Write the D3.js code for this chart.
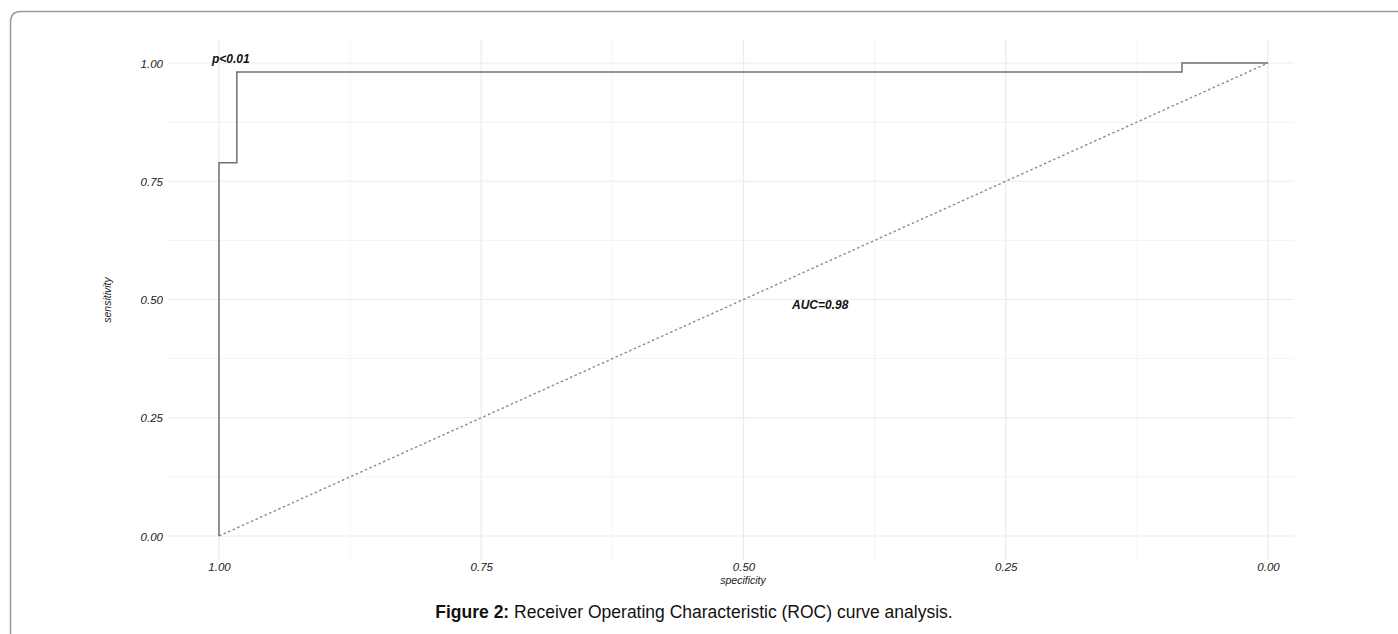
<!DOCTYPE html>
<html><head><meta charset="utf-8">
<script src="https://cdn.jsdelivr.net/npm/d3@7"></script>
<style>body{margin:0;background:#fff;}svg{display:block;}</style>
</head><body>
<script>
const specificity = [1.00, 1.00, 0.983, 0.983, 0.082, 0.082, 0.00];
const sensitivity = [0.00, 0.789, 0.789, 0.981, 0.981, 1.00, 1.00];
const diagSpec = [1.00, 0.00];
const diagSens = [0.00, 1.00];
const xTicks = [1.00, 0.75, 0.50, 0.25, 0.00];
const yTicks = [0.00, 0.25, 0.50, 0.75, 1.00];
const xMinor = [0.875, 0.625, 0.375, 0.125];
const yMinor = [0.125, 0.375, 0.625, 0.875];
const pText = "p<0.01";
const aucText = "AUC=0.98";
const xTitle = "specificity";
const yTitle = "sensitivity";
const captionBold = "Figure 2:";
const captionRest = " Receiver Operating Characteristic (ROC) curve analysis.";

const W = 1398, H = 634;
const svg = d3.select("body").append("svg").attr("width", W).attr("height", H);

// frame
svg.append("path")
  .attr("d", `M10.5,${H+5} L10.5,22 Q10.5,11.5 21,11.5 L${W+5},11.5`)
  .attr("fill", "none").attr("stroke", "#9a9a9a").attr("stroke-width", 1.5);

const x = d3.scaleLinear().domain([1, 0]).range([219, 1268]);
const y = d3.scaleLinear().domain([0, 1]).range([536, 63]);
const panel = {x0: 168, x1: 1294, y0: 40, y1: 560};

const g = svg.append("g");
yMinor.forEach(v => g.append("line").attr("x1", panel.x0).attr("x2", panel.x1)
  .attr("y1", y(v)).attr("y2", y(v)).attr("stroke", "#f3f3f3").attr("stroke-width", 1));
xMinor.forEach(v => g.append("line").attr("x1", x(v)).attr("x2", x(v))
  .attr("y1", panel.y0).attr("y2", panel.y1).attr("stroke", "#f3f3f3").attr("stroke-width", 1));
yTicks.forEach(v => g.append("line").attr("x1", panel.x0).attr("x2", panel.x1)
  .attr("y1", y(v)).attr("y2", y(v)).attr("stroke", "#ebebeb").attr("stroke-width", 1.2));
xTicks.forEach(v => g.append("line").attr("x1", x(v)).attr("x2", x(v))
  .attr("y1", panel.y0).attr("y2", panel.y1).attr("stroke", "#ebebeb").attr("stroke-width", 1.2));

const font = "'Liberation Sans', Arial, sans-serif";
const yAxis = d3.axisLeft(y).tickValues(yTicks).tickFormat(d3.format(".2f")).tickSize(0).tickPadding(0);
const ya = svg.append("g").attr("transform", "translate(163,0)").call(yAxis);
ya.select(".domain").remove();
ya.selectAll("text").attr("font-family", font).attr("font-style", "italic")
  .attr("font-size", 11.5).attr("fill", "#222").attr("dy", "0.35em");

const xAxis = d3.axisBottom(x).tickValues(xTicks).tickFormat(d3.format(".2f")).tickSize(0).tickPadding(0);
const xa = svg.append("g").attr("transform", "translate(0,563)").call(xAxis);
xa.select(".domain").remove();
xa.selectAll("text").attr("font-family", font).attr("font-style", "italic")
  .attr("font-size", 11.5).attr("fill", "#222").attr("dy", "0.71em");

svg.append("text").attr("x", 743).attr("y", 584).attr("text-anchor", "middle")
  .attr("font-family", font).attr("font-style", "italic").attr("font-size", 10.5)
  .attr("fill", "#222").text(xTitle);
svg.append("text").attr("transform", "translate(111,300) rotate(-90)").attr("text-anchor", "middle")
  .attr("font-family", font).attr("font-style", "italic").attr("font-size", 10.5)
  .attr("fill", "#222").text(yTitle);

svg.append("path")
  .attr("d", d3.line().x(d => x(d[0])).y(d => y(d[1]))(diagSpec.map((s, i) => [s, diagSens[i]])))
  .attr("fill", "none").attr("stroke", "#8a8a8a").attr("stroke-width", 1.4)
  .attr("stroke-dasharray", "2.5,2.5");

svg.append("path")
  .attr("d", d3.line().x(d => x(d[0])).y(d => y(d[1]))(specificity.map((s, i) => [s, sensitivity[i]])))
  .attr("fill", "none").attr("stroke", "#707070").attr("stroke-width", 1.5);

svg.append("text").attr("x", 212).attr("y", 63).attr("font-family", font)
  .attr("font-style", "italic").attr("font-weight", "bold").attr("font-size", 12)
  .attr("fill", "#111").text(pText);
svg.append("text").attr("x", 792).attr("y", 309).attr("font-family", font)
  .attr("font-style", "italic").attr("font-weight", "bold").attr("font-size", 12)
  .attr("fill", "#111").text(aucText);

const cap = svg.append("text").attr("x", 694).attr("y", 618).attr("text-anchor", "middle")
  .attr("font-family", font).attr("font-size", 17.5).attr("fill", "#111");
cap.append("tspan").attr("font-weight", "bold").text(captionBold);
cap.append("tspan").text(captionRest);
</script>
</body></html>
